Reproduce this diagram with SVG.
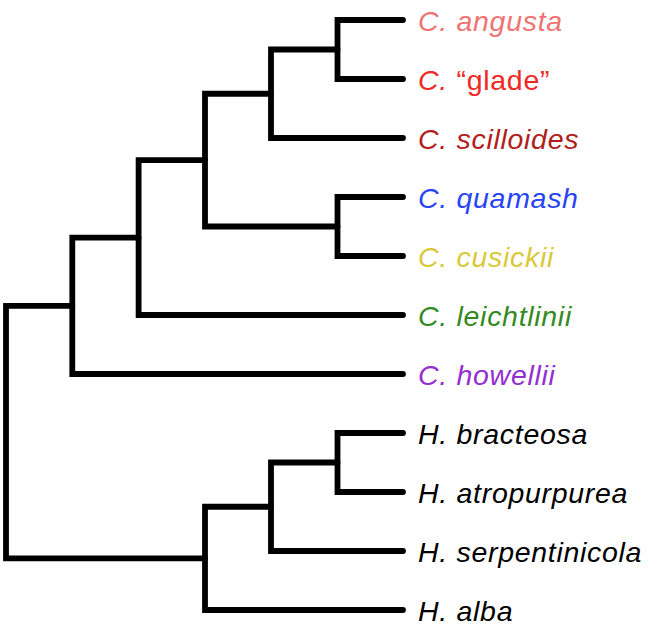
<svg xmlns="http://www.w3.org/2000/svg" width="668" height="628" viewBox="0 0 668 628">
<style>
.e{fill:none;stroke:#000;stroke-width:5.8;stroke-linecap:round;stroke-linejoin:miter}
text{font-family:"Liberation Sans",Arial,sans-serif;font-size:28.5px;font-style:italic;letter-spacing:0.7px}
.u{font-style:normal}
</style>
<rect width="668" height="628" fill="#fff"/>
<g id="connectors">
<path class="e" d="M403,20 H337.5 V79 H403"/>
<path class="e" d="M337.5,49.5 H271 V138 H403"/>
<path class="e" d="M403,197 H337.5 V256 H403"/>
<path class="e" d="M271,93.75 H205 V226.5 H337.5"/>
<path class="e" d="M205,160.1 H138.6 V315 H403"/>
<path class="e" d="M138.6,237.6 H72.3 V374 H403"/>
<path class="e" d="M403,433 H337.5 V492 H403"/>
<path class="e" d="M337.5,462.5 H271 V551 H403"/>
<path class="e" d="M271,506.75 H205 V610 H403"/>
<path class="e" d="M72.3,305.8 H6 V558.4 H205"/>
</g>
<g id="angusta"><text x="418" y="31" fill="#F07373">C. angusta</text></g>
<g id="glade"><text x="418" y="90" fill="#EE2A24">C. <tspan class="u">“glade”</tspan></text></g>
<g id="scilloides"><text x="418" y="149" fill="#B21E1E">C. scilloides</text></g>
<g id="quamash"><text x="418" y="208" fill="#2844F5">C. quamash</text></g>
<g id="cusickii"><text x="418" y="267" fill="#D9C93A">C. cusickii</text></g>
<g id="leichtlinii"><text x="418" y="326" fill="#348A22">C. leichtlinii</text></g>
<g id="howellii"><text x="418" y="385" fill="#9430D0">C. howellii</text></g>
<g id="bracteosa"><text x="418" y="444" fill="#000">H. bracteosa</text></g>
<g id="atropurpurea"><text x="418" y="503" fill="#000">H. atropurpurea</text></g>
<g id="serpentinicola"><text x="418" y="562" fill="#000">H. serpentinicola</text></g>
<g id="alba"><text x="418" y="621" fill="#000">H. alba</text></g>
</svg>
